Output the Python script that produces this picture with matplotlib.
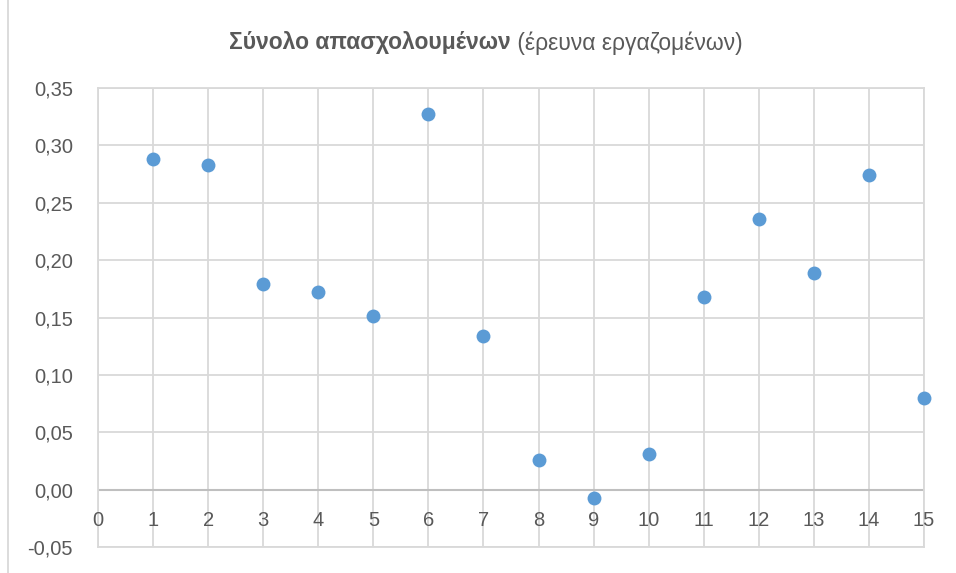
import matplotlib
matplotlib.use("Agg")
import matplotlib.pyplot as plt
import matplotlib.transforms as mtransforms
from matplotlib.lines import Line2D

x_vals = [1, 2, 3, 4, 5, 6, 7, 8, 9, 10, 11, 12, 13, 14, 15]
y_vals = [0.288, 0.283, 0.179, 0.172, 0.151, 0.327, 0.134, 0.026, -0.007, 0.031, 0.168, 0.236, 0.189, 0.274, 0.080]
x_ticks = list(range(0, 16))
y_ticks = [-0.05, 0.0, 0.05, 0.10, 0.15, 0.20, 0.25, 0.30, 0.35]
title_bold = "Σύνολο απασχολουμένων"
title_regular = " (έρευνα εργαζομένων)"

FONT = "Liberation Sans"
TXT = "#595959"
GRID = "#d9d9d9"

fig = plt.figure(figsize=(9.56, 5.73), dpi=100)
ax = fig.add_axes([98/956, 1-547/573, (924-98)/956, (547-88)/573])
ax.set_xlim(0, 15)
ax.set_ylim(-0.05, 0.35)

ax.set_xticks(x_ticks)
ax.set_yticks(y_ticks)
ax.grid(True, color=GRID, linewidth=1.3)
ax.set_axisbelow(True)
for s in ax.spines.values():
    s.set_color(GRID)
    s.set_linewidth(1.3)
ax.tick_params(length=0)
ax.set_xticklabels([])
ax.set_yticklabels([f"{v:.2f}".replace(".", ",") for v in y_ticks],
                   fontname=FONT, fontsize=14.5, color=TXT)
ax.tick_params(axis="y", pad=18)

ax.axhline(0, color="#bfbfbf", linewidth=1.5, zorder=1.5)

offset = mtransforms.ScaledTranslation(0, -31/100, fig.dpi_scale_trans)
for t in x_ticks:
    ax.text(t, 0, str(t), transform=ax.transData + offset, ha="center", va="center",
            fontname=FONT, fontsize=14.5, color=TXT, clip_on=False)

ax.scatter(x_vals, y_vals, s=100, color="#5b9bd5", zorder=3, linewidths=0, clip_on=False)

# chart border on left
fig.add_artist(Line2D([8/956, 8/956], [0, 1], color=GRID, linewidth=1.3))

# title
renderer = fig.canvas.get_renderer()
tb = fig.text(0, 0, title_bold, fontname=FONT, fontsize=16.5, fontweight="bold", color=TXT)
tr = fig.text(0, 0, title_regular, fontname=FONT, fontsize=16.5, color=TXT)
wb = tb.get_window_extent(renderer).width
wr = tr.get_window_extent(renderer).width
total = wb + wr
cx = 486
start = cx - total/2
ty = 1 - 43/573
tb.set_position((start/956, ty)); tb.set_va("center")
tr.set_position(((start+wb)/956, ty)); tr.set_va("center")

fig.savefig("out.png", dpi=100)
